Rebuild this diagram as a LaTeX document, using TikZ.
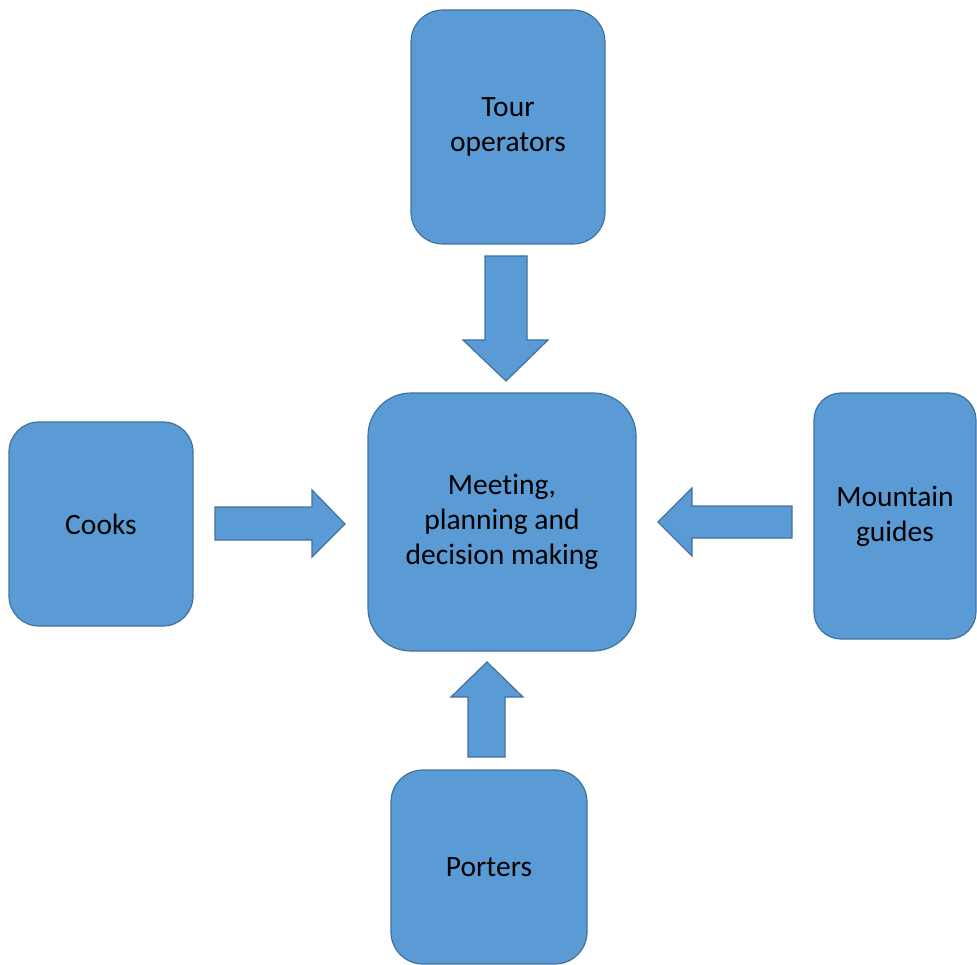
\documentclass[tikz,border=0pt]{standalone}
\usepackage{fontspec}
\setmainfont{Carlito}[Ligatures=NoCommon]
\definecolor{boxfill}{HTML}{5B9BD5}
\definecolor{boxline}{HTML}{41719C}
\begin{document}
\begin{tikzpicture}[x=1pt,y=-1pt,
  box/.style={draw=boxline, fill=boxfill, line width=1.2pt, align=center,
    inner sep=0pt, font=\fontsize{29.5}{35}\selectfont},
  blockarrow/.style={draw=boxline, fill=boxfill, line width=1.2pt, line join=miter}]
\useasboundingbox (0,0) rectangle (977,965);
\node[box, rounded corners=32pt, minimum width=194pt, minimum height=234pt] (tour) at (508,127) {Tour\\operators};
\node[box, rounded corners=43pt, minimum width=268pt, minimum height=258pt] (center) at (502,522) {Meeting,\\planning and\\decision making};
\node[box, rounded corners=30pt, minimum width=184pt, minimum height=204pt] (cooks) at (101,524) {Cooks};
\node[box, rounded corners=27pt, minimum width=162pt, minimum height=246pt] (guides) at (895,516) {Mountain\\guides};
\node[box, rounded corners=32pt, minimum width=196pt, minimum height=194pt] (porters) at (489,867) {Porters};
% down arrow (tour -> center)
\draw[blockarrow] (485,256) -- (527,256) -- (527,340) -- (548,340) -- (506,381) -- (463,340) -- (485,340) -- cycle;
% right arrow (cooks -> center)
\draw[blockarrow] (215,507) -- (312,507) -- (312,490) -- (345,524) -- (312,557) -- (312,540) -- (215,540) -- cycle;
% left arrow (guides -> center)
\draw[blockarrow] (792,506) -- (692,506) -- (692,488) -- (658,522) -- (692,556) -- (692,538) -- (792,538) -- cycle;
% up arrow (porters -> center)
\draw[blockarrow] (468,757) -- (468,697) -- (451,697) -- (487,662) -- (523,697) -- (505,697) -- (505,757) -- cycle;
\end{tikzpicture}
\end{document}
